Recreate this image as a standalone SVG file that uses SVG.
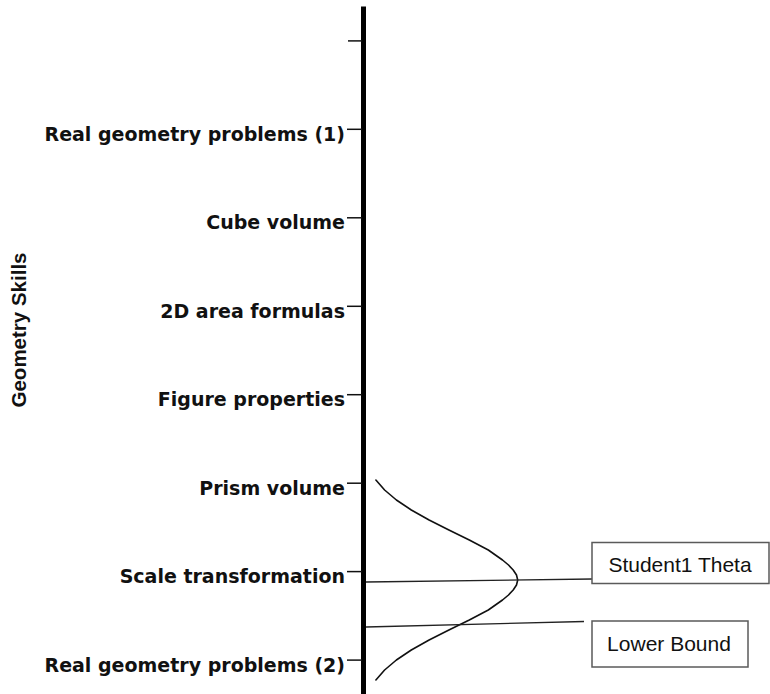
<svg xmlns="http://www.w3.org/2000/svg" width="770" height="694" viewBox="0 0 770 694">
<style>
.lbl{font-family:"DejaVu Sans",Verdana,sans-serif;font-weight:bold;font-size:19px;fill:#111;text-anchor:end}
.tick{stroke:#111;stroke-width:1.5}
.box{fill:#fff;stroke:#5a5a5a;stroke-width:1.5}
.btxt{font-family:"Liberation Sans",Arial,sans-serif;font-size:21px;fill:#111;text-anchor:middle}
.conn{stroke:#222;stroke-width:1.3;fill:none}
</style>
<rect width="770" height="694" fill="#fff"/>
<g id="axis">
<line x1="363.5" y1="6.5" x2="363.5" y2="694" stroke="#000" stroke-width="5"/>
<line class="tick" x1="348" y1="40.9" x2="362" y2="40.9"/>
</g>
<g id="y-title">
<text transform="translate(26,330) rotate(-90)" text-anchor="middle" font-family="Liberation Sans, Arial, sans-serif" font-weight="bold" font-size="20.5" fill="#111">Geometry Skills</text>
</g>
<g id="skill-real1"><line class="tick" x1="347" y1="129.3" x2="362" y2="129.3"/><text class="lbl" x="345" y="140.5">Real geometry problems (1)</text></g>
<g id="skill-cube"><line class="tick" x1="347" y1="217.8" x2="362" y2="217.8"/><text class="lbl" x="345" y="229">Cube volume</text></g>
<g id="skill-2d"><line class="tick" x1="347" y1="306.3" x2="362" y2="306.3"/><text class="lbl" x="345" y="317.5">2D area formulas</text></g>
<g id="skill-figure"><line class="tick" x1="347" y1="394.7" x2="362" y2="394.7"/><text class="lbl" x="345" y="406">Figure properties</text></g>
<g id="skill-prism"><line class="tick" x1="347" y1="483.2" x2="362" y2="483.2"/><text class="lbl" x="345" y="494.5">Prism volume</text></g>
<g id="skill-scale"><line class="tick" x1="347" y1="571.6" x2="362" y2="571.6"/><text class="lbl" x="345" y="583">Scale transformation</text></g>
<g id="skill-real2"><line class="tick" x1="347" y1="660.1" x2="362" y2="660.1"/><text class="lbl" x="345" y="671.5">Real geometry problems (2)</text></g>
<g id="curve">
<polyline fill="none" stroke="#111" stroke-width="1.6" stroke-linejoin="round" stroke-linecap="round" points="375.9,480 384.6,490 396.4,500 411.3,510 429.1,520 448.9,530 469.3,540 488.3,550 502.5,560 508.5,565 513.2,570 516.5,575 517.7,580 516.5,585 513.2,590 508.5,595 502.5,600 488.3,610 469.3,620 448.9,630 429.1,640 411.3,650 396.4,660 384.6,670 375.9,680"/>
</g>
<g id="connectors">
<line class="conn" x1="366" y1="582" x2="592" y2="579"/>
<line class="conn" x1="366" y1="627" x2="584" y2="621.5"/>
</g>
<g id="theta-box">
<rect class="box" x="592" y="542.5" width="177" height="41"/>
<text class="btxt" x="680" y="571.5">Student1 Theta</text>
</g>
<g id="lower-box">
<rect class="box" x="592" y="621" width="156" height="46"/>
<text class="btxt" x="669" y="650.5">Lower Bound</text>
</g>
</svg>
